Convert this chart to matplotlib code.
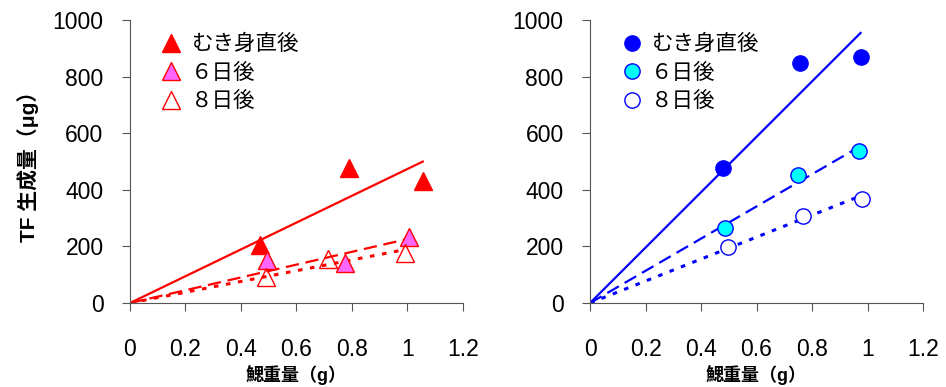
import numpy as np
import matplotlib.pyplot as plt

plt.rcParams['font.family'] = ['Liberation Sans', 'Noto Sans CJK JP', 'DejaVu Sans']

# left panel (triangles)
l_x0 = [0.47, 0.79, 1.055]
l_y0 = [205, 477, 431]
l_x6 = [0.495, 0.776, 1.007]
l_y6 = [152, 142, 234]
l_x8 = [0.49, 0.715, 0.99]
l_y8 = [93, 154, 176]

# right panel (circles)
r_x0 = [0.48, 0.757, 0.975]
r_y0 = [478, 848, 868]
r_x6 = [0.486, 0.751, 0.971]
r_y6 = [264, 453, 539]
r_x8 = [0.496, 0.766, 0.979]
r_y8 = [199, 309, 368]

labels = ['むき身直後', '６日後', '８日後']
xticks = [0, 0.2, 0.4, 0.6, 0.8, 1, 1.2]
xticklabels = ['0', '0.2', '0.4', '0.6', '0.8', '1', '1.2']
yticks = [0, 200, 400, 600, 800, 1000]


def trend(ax, x, y, color, ls, lw=1.6):
    x = np.array(x)
    y = np.array(y)
    k = np.sum(x * y) / np.sum(x * x)  # through origin
    xs = np.array([0, x.max()])
    ax.plot(xs, k * xs, color=color, ls=ls, lw=lw, zorder=2)


def style(ax):
    ax.set_xlim(0, 1.2)
    ax.set_ylim(0, 1000)
    ax.set_xticks(xticks)
    ax.set_xticklabels(xticklabels)
    ax.set_yticks(yticks)
    for s in ['top', 'right']:
        ax.spines[s].set_visible(False)
    for s in ['left', 'bottom']:
        ax.spines[s].set_color('#555555')
    ax.tick_params(axis='x', direction='out', length=6, color='#555555',
                   labelsize=16.5, pad=19)
    ax.tick_params(axis='y', direction='out', length=6, color='#555555',
                   labelsize=16.5, pad=13)
    ax.set_xlabel('鰓重量（g）', fontsize=13, fontweight='bold', labelpad=3)


def legend(ax):
    ax.legend(loc='upper left', bbox_to_anchor=(0.06, 0.98), frameon=False, fontsize=15.5,
              handletextpad=0.3, labelspacing=0.35, handlelength=1.2, borderaxespad=0)


fig = plt.figure(figsize=(9.46, 3.87), dpi=100)
ax1 = fig.add_axes([0.1374, 0.217, 0.352, 0.731])
ax2 = fig.add_axes([0.6237, 0.217, 0.352, 0.731])

red = '#ff0000'
blue = '#0000ff'

trend(ax1, l_x0, l_y0, red, '-')
trend(ax1, l_x6, l_y6, red, (0, (6, 3)))
trend(ax1, l_x8, l_y8, red, (0, (1.5, 2.5)), lw=2.2)
ax1.plot(l_x0, l_y0, '^', color=red, ms=13, ls='none', label=labels[0], zorder=3)
ax1.plot(l_x6, l_y6, '^', mfc='#ff66ff', mec=red, mew=1, ms=13, ls='none', label=labels[1], zorder=3)
ax1.plot(l_x8, l_y8, '^', mfc='none', mec=red, mew=1, ms=13, ls='none', label=labels[2], zorder=3)
style(ax1)
ax1.set_ylabel('TF 生成量（μg）', fontsize=15, fontweight='bold', labelpad=10)
legend(ax1)

trend(ax2, r_x0, r_y0, blue, '-')
trend(ax2, r_x6, r_y6, blue, (0, (6, 3)))
trend(ax2, r_x8, r_y8, blue, (0, (1.5, 2.5)), lw=2.2)
ax2.plot(r_x0, r_y0, 'o', color=blue, ms=11, ls='none', label=labels[0], zorder=3)
ax2.plot(r_x6, r_y6, 'o', mfc='#00ffff', mec=blue, mew=1, ms=11, ls='none', label=labels[1], zorder=3)
ax2.plot(r_x8, r_y8, 'o', mfc='white', mec=blue, mew=1, ms=11, ls='none', label=labels[2], zorder=3)
style(ax2)
legend(ax2)

fig.savefig('out.png', dpi=100)
